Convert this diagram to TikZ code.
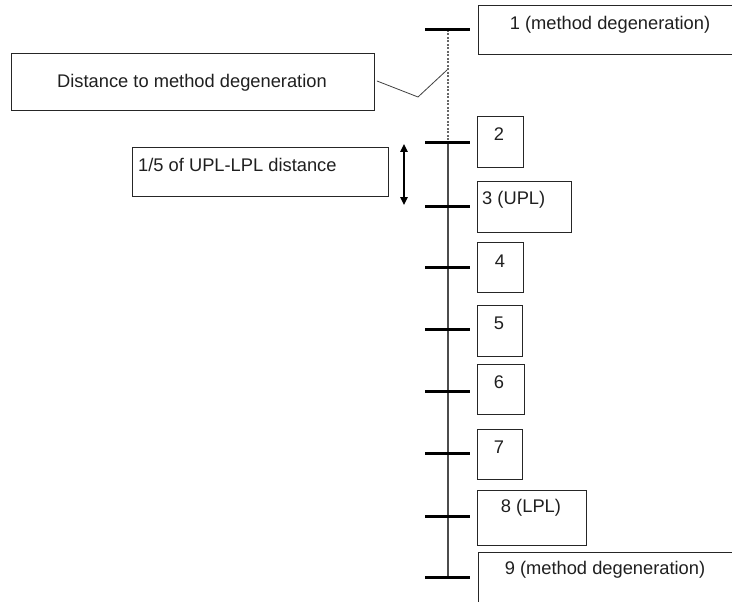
\documentclass[tikz,border=0pt]{standalone}
\usepackage{fontspec}
\setmainfont{Liberation Sans}
\usetikzlibrary{arrows.meta}
\begin{document}
\begin{tikzpicture}[x=1pt,y=-1pt,
  box/.style={draw=black!85, line width=0.9pt, anchor=north west, inner sep=0pt},
  lbl/.style={font=\fontsize{18.3}{22}\selectfont, text=black!88, inner sep=0pt},
  tickmark/.style={line width=3pt, black},
  axisline/.style={line width=1.2pt, black!70},
  dashaxis/.style={line width=1.1pt, black!60, dash pattern=on 2pt off 1.5pt},
  callout/.style={line width=0.8pt, black!75},
  dimarrow/.style={line width=1.3pt, black, {Triangle[length=8pt,width=7.5pt]}-{Triangle[length=8pt,width=7.5pt]}}]
\useasboundingbox (0,0) rectangle (732,602);
\clip (0,0) rectangle (732,602);
% axis positions
\coordinate (t1) at (448,30);
\coordinate (t2) at (448,143);
\coordinate (t3) at (448,206);
\coordinate (t4) at (448,267);
\coordinate (t5) at (448,329);
\coordinate (t6) at (448,391);
\coordinate (t7) at (448,453);
\coordinate (t8) at (448,516);
\coordinate (t9) at (448,577);
% axis
\draw[dashaxis] (t1) -- (t2);
\draw[axisline] (t2) -- (t9);
\foreach \t in {t1,t2,t3,t4,t5,t6,t7,t8,t9}
  \draw[tickmark] ([xshift=-23pt]\t) -- ([xshift=22pt]\t);
% boxes
\node[box, minimum width=290pt, minimum height=49pt] (b1) at (478,5) {};
\node[box, minimum width=46pt, minimum height=51pt] (b2) at (477,116) {};
\node[box, minimum width=94pt, minimum height=51pt] (b3) at (477,181) {};
\node[box, minimum width=46pt, minimum height=50pt] (b4) at (477,242) {};
\node[box, minimum width=45pt, minimum height=51pt] (b5) at (477,305) {};
\node[box, minimum width=47pt, minimum height=50pt] (b6) at (477,364) {};
\node[box, minimum width=45pt, minimum height=50pt] (b7) at (477,429) {};
\node[box, minimum width=109pt, minimum height=55pt] (b8) at (477,490) {};
\node[box, minimum width=290pt, minimum height=80pt] (b9) at (478,552) {};
% labels
\node[lbl] (l1) at (610,25) {1 (method degeneration)};
\node[lbl] (l2) at (499,134) {2};
\node[lbl, anchor=west] (l3) at (482,200) {3 (UPL)};
\node[lbl] (l4) at (500,261) {4};
\node[lbl] (l5) at (499,323) {5};
\node[lbl] (l6) at (499,382) {6};
\node[lbl] (l7) at (499,447) {7};
\node[lbl] (l8) at (531,508) {8 (LPL)};
\node[lbl] (l9) at (605,570) {9 (method degeneration)};
% left boxes
\node[box, minimum width=363pt, minimum height=57pt] (dist) at (11,53) {};
\node[lbl] (distl) at (192,83) {Distance to method degeneration};
\node[box, minimum width=256pt, minimum height=49pt] (fifth) at (132,147) {};
\node[lbl, anchor=west] (fifthl) at (138,165) {1/5 of UPL-LPL distance};
% callout
\coordinate (ck) at (418,97);
\coordinate (ce) at (447,70);
\draw[callout] ([xshift=2pt,yshift=1pt]dist.east) -- (ck) -- (ce);
% dimension arrow
\coordinate (da) at (404,144);
\coordinate (db) at (404,205);
\draw[dimarrow] (da) -- (db);
\end{tikzpicture}
\end{document}
